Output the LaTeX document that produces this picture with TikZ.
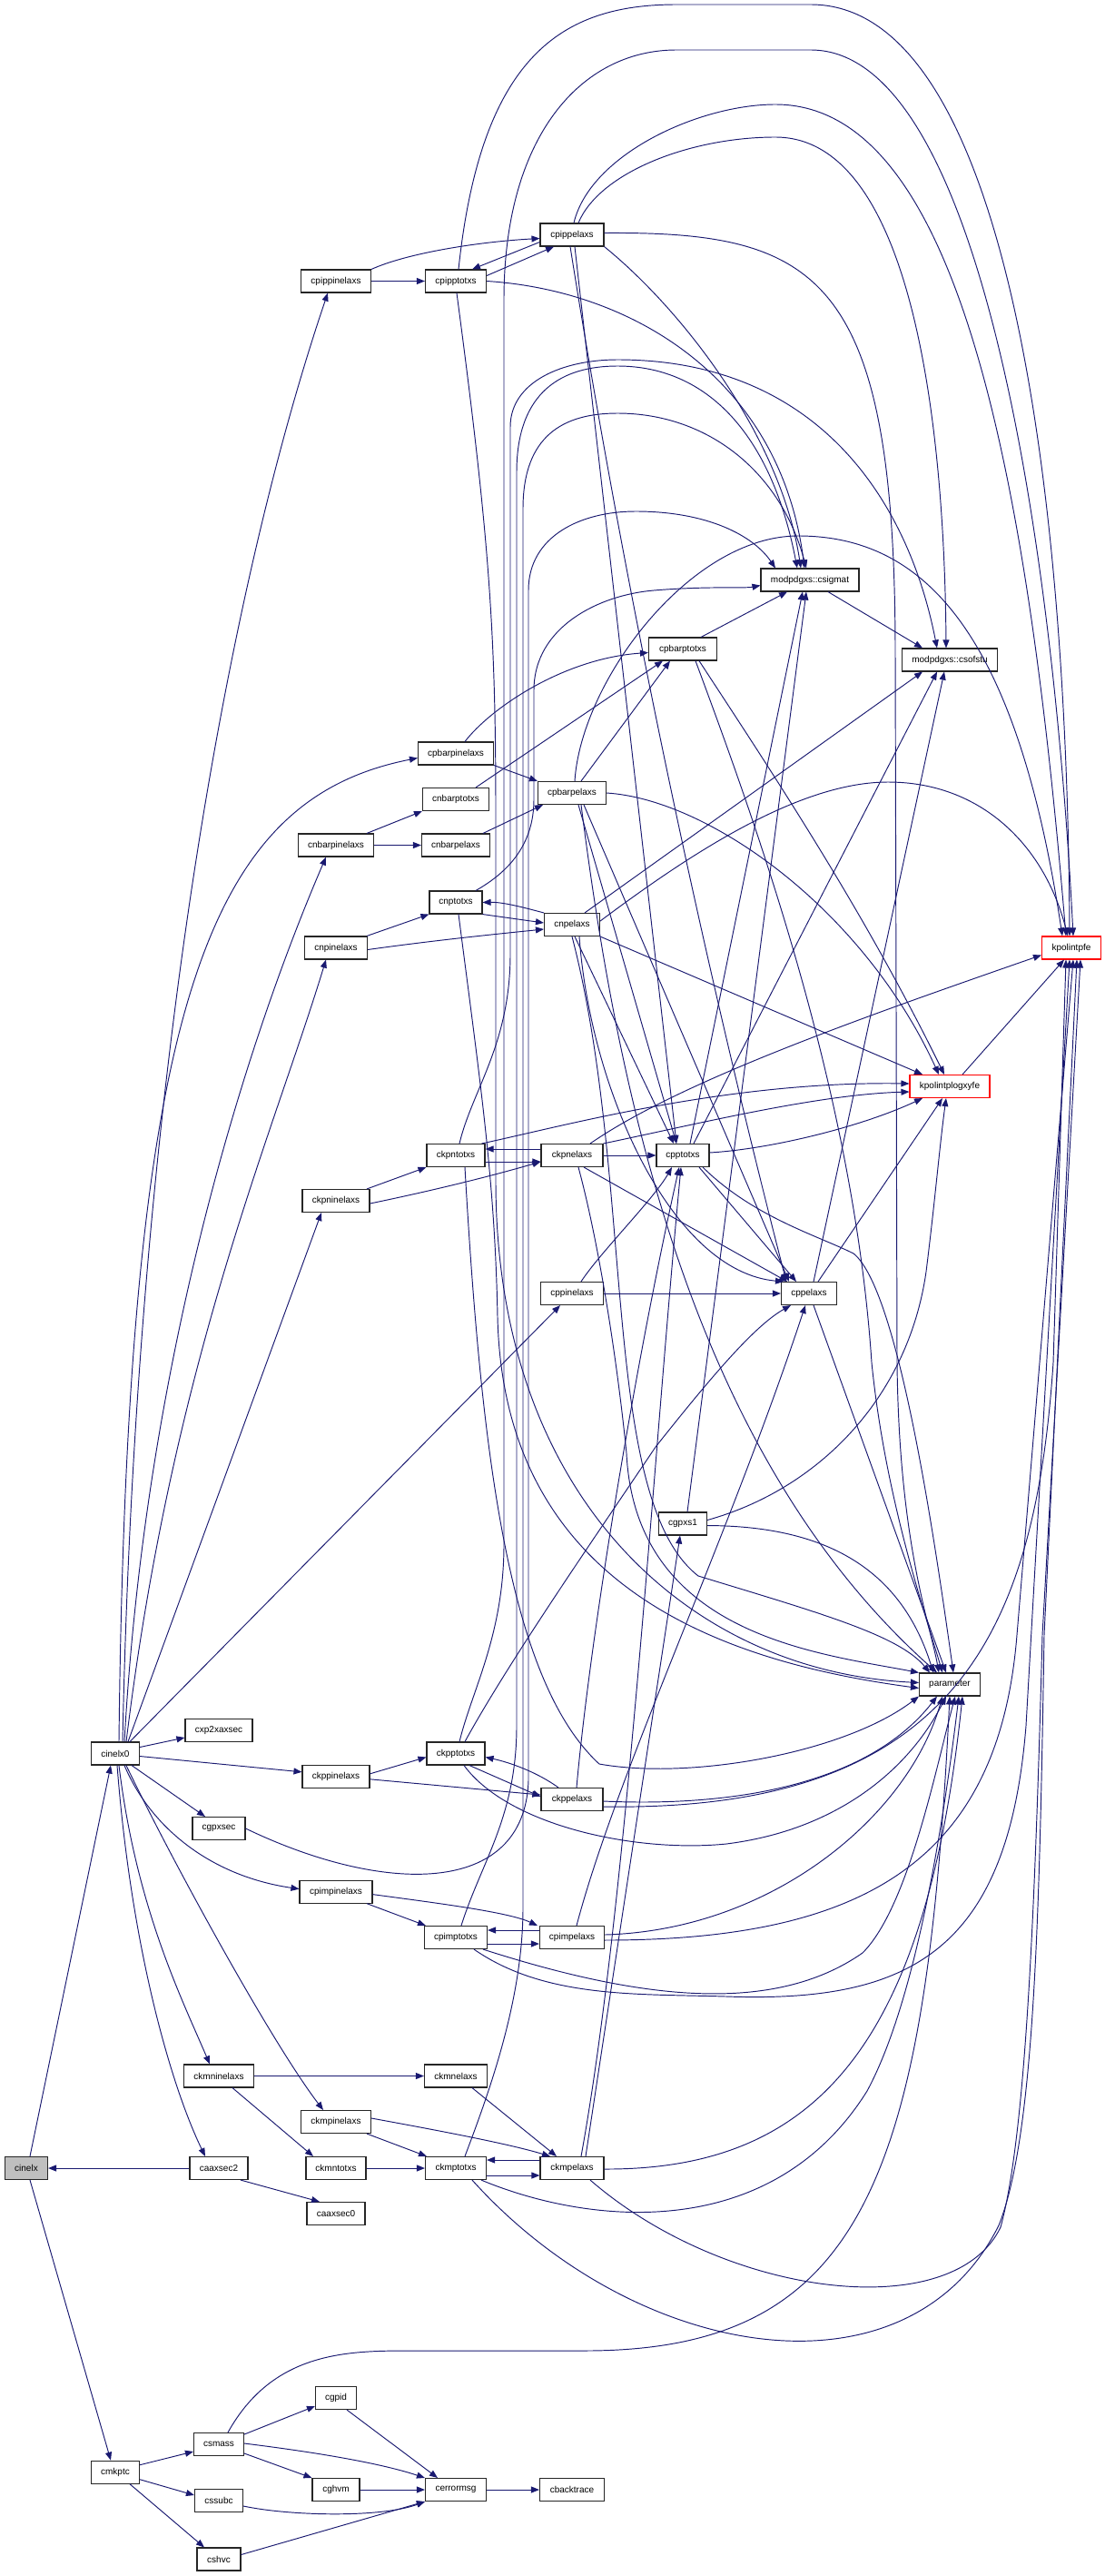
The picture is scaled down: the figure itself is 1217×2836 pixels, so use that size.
\documentclass[tikz,border=0pt]{standalone}
\usepackage{fontspec}
\setmainfont{Liberation Sans}
\usetikzlibrary{arrows.meta}
\definecolor{edgeblue}{RGB}{25,25,112}
\definecolor{rootgray}{RGB}{191,191,191}
\begin{document}
\begin{tikzpicture}[x=1pt,y=-1pt,
  fn/.style={draw=black!85,line width=1.1pt,fill=white,minimum height=25pt,inner sep=0pt,font=\fontsize{10}{12}\selectfont},
  redfn/.style={fn,draw=red},
  rootfn/.style={fn,fill=rootgray},
  ed/.style={draw=edgeblue,line width=0.95pt,-{Triangle[length=9pt,width=7pt]}}]
\useasboundingbox (0,0) rectangle (1217,2836);
% nodes
\node[fn,minimum width=77pt] (cpippinelaxs) at (370,309.5) {cpippinelaxs};
\node[fn,minimum width=67pt] (cpipptotxs) at (502,309.5) {cpipptotxs};
\node[fn,minimum width=70pt] (cpippelaxs) at (630,258.5) {cpippelaxs};
\node[fn,minimum width=108pt] (csigmat) at (892,638.5) {modpdgxs::csigmat};
\node[fn,minimum width=105pt] (csofstu) at (1046,726.5) {modpdgxs::csofstu};
\node[fn,minimum width=75pt] (cpbarptotxs) at (752,714.5) {cpbarptotxs};
\node[fn,minimum width=83pt] (cpbarpinelaxs) at (502,829.5) {cpbarpinelaxs};
\node[fn,minimum width=75pt] (cpbarpelaxs) at (630,873) {cpbarpelaxs};
\node[fn,minimum width=73pt] (cnbarptotxs) at (502,880) {cnbarptotxs};
\node[fn,minimum width=83pt] (cnbarpinelaxs) at (370,930.5) {cnbarpinelaxs};
\node[fn,minimum width=75pt] (cnbarpelaxs) at (502,930.5) {cnbarpelaxs};
\node[fn,minimum width=58pt] (cnptotxs) at (502,993.5) {cnptotxs};
\node[fn,minimum width=61pt] (cnpelaxs) at (630,1018) {cnpelaxs};
\node[fn,minimum width=69pt] (cnpinelaxs) at (370,1043.5) {cnpinelaxs};
\node[redfn,minimum width=65pt] (kpolintpfe) at (1180,1043.5) {kpolintpfe};
\node[redfn,minimum width=88pt] (kpolintplogxyfe) at (1046,1196) {kpolintplogxyfe};
\node[fn,minimum width=64pt] (ckpntotxs) at (502,1272) {ckpntotxs};
\node[fn,minimum width=68pt] (ckpnelaxs) at (630,1272) {ckpnelaxs};
\node[fn,minimum width=58pt] (cpptotxs) at (752,1272) {cpptotxs};
\node[fn,minimum width=74pt] (ckpninelaxs) at (370,1322) {ckpninelaxs};
\node[fn,minimum width=69pt] (cppinelaxs) at (630,1424) {cppinelaxs};
\node[fn,minimum width=61pt] (cppelaxs) at (891,1424) {cppelaxs};
\node[fn,minimum width=53pt] (cgpxs1) at (752,1677.5) {cgpxs1};
\node[fn,minimum width=67pt] (parameter) at (1046,1854.5) {parameter};
\node[fn,minimum width=74pt] (cxp2xaxsec) at (241,1905) {cxp2xaxsec};
\node[fn,minimum width=53pt] (cinelx0) at (127,1930.5) {cinelx0};
\node[fn,minimum width=64pt] (ckpptotxs) at (502,1930.5) {ckpptotxs};
\node[fn,minimum width=74pt] (ckppinelaxs) at (370,1955.8) {ckppinelaxs};
\node[fn,minimum width=68pt] (ckppelaxs) at (630,1981) {ckppelaxs};
\node[fn,minimum width=58pt] (cgpxsec) at (241,2013) {cgpxsec};
\node[fn,minimum width=80pt] (cpimpinelaxs) at (370,2082.6) {cpimpinelaxs};
\node[fn,minimum width=69pt] (cpimptotxs) at (502,2133) {cpimptotxs};
\node[fn,minimum width=71pt] (cpimpelaxs) at (630,2133) {cpimpelaxs};
\node[fn,minimum width=77pt] (ckmninelaxs) at (241,2285.5) {ckmninelaxs};
\node[fn,minimum width=69pt] (ckmnelaxs) at (502,2285.5) {ckmnelaxs};
\node[fn,minimum width=77pt] (ckmpinelaxs) at (370,2336) {ckmpinelaxs};
\node[rootfn,minimum width=47pt] (cinelx) at (29,2387) {cinelx};
\node[fn,minimum width=64pt] (caaxsec2) at (241,2387) {caaxsec2};
\node[fn,minimum width=66pt] (ckmntotxs) at (370,2387) {ckmntotxs};
\node[fn,minimum width=67pt] (ckmptotxs) at (502,2387) {ckmptotxs};
\node[fn,minimum width=70pt] (ckmpelaxs) at (630,2387) {ckmpelaxs};
\node[fn,minimum width=64pt] (caaxsec0) at (370,2437) {caaxsec0};
\node[fn,minimum width=45pt] (cgpid) at (370,2640) {cgpid};
\node[fn,minimum width=55pt] (csmass) at (241,2691) {csmass};
\node[fn,minimum width=53pt] (cmkptc) at (127,2721.7) {cmkptc};
\node[fn,minimum width=52pt] (cghvm) at (370,2741) {cghvm};
\node[fn,minimum width=67pt] (cerrormsg) at (502,2741) {cerrormsg};
\node[fn,minimum width=71pt] (cbacktrace) at (630,2741) {cbacktrace};
\node[fn,minimum width=53pt] (cssubc) at (241,2753) {cssubc};
\node[fn,minimum width=48pt] (cshvc) at (241,2817.5) {cshvc};

% cinelx
\draw[ed] ([xshift=4pt]cinelx.north) -- ([xshift=-5pt]cinelx0.south);
\draw[ed] ([xshift=4pt]cinelx.south) -- ([xshift=-5pt]cmkptc.north);
\draw[ed] (caaxsec2.west) -- (cinelx.east);
\draw[ed] ([xshift=24pt]caaxsec2.south) -- ([xshift=-18pt]caaxsec0.north);
% cinelx0 out
\draw[ed] ([xshift=8pt]cinelx0.north) .. controls (150,1200) and (250,650) .. ([xshift=-9pt]cpippinelaxs.south);
\draw[ed] ([xshift=4pt]cinelx0.north) .. controls (140,1100) and (230,880) .. ([yshift=-5pt]cpbarpinelaxs.west);
\draw[ed] ([xshift=10pt]cinelx0.north) .. controls (160,1500) and (270,1150) .. ([xshift=-11pt]cnbarpinelaxs.south);
\draw[ed] ([xshift=12pt]cinelx0.north) .. controls (190,1500) and (300,1250) .. ([xshift=-11pt]cnpinelaxs.south);
\draw[ed] ([xshift=14pt]cinelx0.north) -- ([xshift=-16pt]ckpninelaxs.south);
\draw[ed] ([xshift=16pt]cinelx0.north) -- ([xshift=-13pt]cppinelaxs.south);
\draw[ed] ([yshift=7pt]cinelx0.east) -- ([yshift=-8pt]cxp2xaxsec.west);
\draw[ed] ([yshift=-3pt]cinelx0.east) -- ([yshift=5pt]ckppinelaxs.west);
\draw[ed] ([xshift=18pt]cinelx0.south) -- ([xshift=-15pt]cgpxsec.north);
\draw[ed] ([xshift=10pt]cinelx0.south) .. controls (165,2010) and (230,2065) .. ([yshift=3pt]cpimpinelaxs.west);
\draw[ed] ([xshift=4pt]cinelx0.south) .. controls (150,2100) and (200,2200) .. ([xshift=-10pt]ckmninelaxs.north);
\draw[ed] ([xshift=2pt]cinelx0.south) .. controls (145,2150) and (190,2300) .. ([xshift=-15pt]caaxsec2.north);
\draw[ed] ([xshift=12pt]cinelx0.south) .. controls (190,2050) and (300,2250) .. ([xshift=-14pt]ckmpinelaxs.north);
% cpip
\draw[ed] (cpippinelaxs.east) -- (cpipptotxs.west);
\draw[ed] (cpippinelaxs.north east) .. controls (450,278) and (530,266) .. ([yshift=-4pt]cpippelaxs.west);
\draw[ed] ([yshift=6pt]cpipptotxs.east) -- ([xshift=-20pt]cpippelaxs.south);
\draw[ed] ([yshift=-8pt]cpippelaxs.west) -- ([xshift=18pt]cpipptotxs.north);
\draw[ed] ([xshift=3pt]cpipptotxs.north) .. controls (530,60) and (620,5) .. (745,5) -- (893,5) .. controls (1100,5) and (1175,500) .. ([xshift=-2pt]kpolintpfe.north);
\draw[ed] (cpippelaxs.south east) .. controls (750,340) and (860,480) .. ([xshift=-10pt]csigmat.north);
\draw[ed] ([xshift=7pt]cpippelaxs.north) .. controls (660,190) and (760,151) .. (854,151) .. controls (1000,151) and (1040,450) .. ([xshift=-4pt]csofstu.north);
\draw[ed] ([xshift=2pt]cpippelaxs.north) .. controls (650,170) and (770,115) .. (854,115) .. controls (1050,115) and (1130,500) .. ([xshift=-6pt]kpolintpfe.north);
\draw[ed] ([yshift=2pt]cpippelaxs.east) .. controls (900,255) and (986,300) .. (986,720) -- (988,1500) .. controls (990,1700) and (1025,1790) .. ([xshift=-12pt]parameter.north);
\draw[ed] ([xshift=3pt]cpippelaxs.south) -- ([xshift=-7pt]cpptotxs.north);
\draw[ed] ([xshift=-2pt]cpippelaxs.south) .. controls (680,600) and (760,1000) .. ([xshift=-25pt]cppelaxs.north);
\draw[ed] (cpipptotxs.east) .. controls (700,320) and (860,420) .. ([xshift=-6pt]csigmat.north);
\draw[ed] ([xshift=1pt]cpipptotxs.south) .. controls (540,600) and (546,700) .. (546,900) -- (546,1300) .. controls (546,1650) and (760,1840) .. ([yshift=2pt]parameter.west);
% cpbar
\draw[ed] ([xshift=10pt]cpbarpinelaxs.north) .. controls (540,780) and (620,725) .. ([yshift=-4pt]cpbarptotxs.west);
\draw[ed] (cpbarpinelaxs.south east) -- (cpbarpelaxs.north west);
\draw[ed] ([xshift=10pt]cpbarpelaxs.north) -- ([xshift=-14pt]cpbarptotxs.south);
\draw[ed] ([xshift=22pt]cnbarptotxs.north) -- ([xshift=-22pt]cpbarptotxs.south);
\draw[ed] ([xshift=3pt]cpbarpelaxs.north) .. controls (640,750) and (760,590) .. (879,590) .. controls (1020,590) and (1120,700) .. ([xshift=-10pt]kpolintpfe.north);
\draw[ed] (cpbarpelaxs.east) .. controls (780,880) and (950,1000) .. ([xshift=-12pt]kpolintplogxyfe.north);
\draw[ed] ([xshift=7pt]cpbarpelaxs.south) -- ([xshift=-7pt]cpptotxs.north);
\draw[ed] ([xshift=13pt]cpbarpelaxs.south) -- ([xshift=-22pt]cppelaxs.north);
\draw[ed] ([xshift=10pt]cpbarpelaxs.south) .. controls (680,1200) and (760,1600) .. ([xshift=-14pt]parameter.north);
\draw[ed] ([xshift=18pt]cpbarptotxs.south) .. controls (850,850) and (950,1000) .. ([xshift=-6pt]kpolintplogxyfe.north);
\draw[ed] ([xshift=14pt]cpbarptotxs.south) .. controls (830,900) and (940,1200) .. (960,1500) .. controls (975,1650) and (1020,1780) .. ([xshift=-8pt]parameter.north);
\draw[ed] ([xshift=20pt]cpbarptotxs.north) -- ([xshift=-25pt]csigmat.south);
\draw[ed] ([xshift=20pt]csigmat.south) -- ([xshift=-30pt]csofstu.north);
% cnbar
\draw[ed] ([xshift=34pt]cnbarpinelaxs.north) -- (cnbarptotxs.south west);
\draw[ed] (cnbarpinelaxs.east) -- (cnbarpelaxs.west);
\draw[ed] ([xshift=30pt]cnbarpelaxs.north) -- ([xshift=6pt]cpbarpelaxs.south west);
% cn
\draw[ed] ([xshift=34pt]cnpinelaxs.north) -- (cnptotxs.south west);
\draw[ed] ([yshift=-2pt]cnpinelaxs.east) .. controls (480,1035) and (550,1028) .. ([yshift=-5pt]cnpelaxs.west);
\draw[ed] (cnptotxs.south east) -- ([yshift=2pt]cnpelaxs.west);
\draw[ed] (cnpelaxs.north west) .. controls (580,1000) and (555,993) .. (cnptotxs.east);
\draw[ed] ([xshift=22pt]cnptotxs.north) .. controls (560,960) and (588,930) .. (588,880) -- (588,760) .. controls (588,690) and (660,655) .. (720,650) .. controls (780,645) and (820,648) .. ([yshift=-6pt]csigmat.west);
\draw[ed] ([xshift=3pt]cnptotxs.south) .. controls (530,1200) and (545,1300) .. (548,1450) .. controls (555,1750) and (800,1830) .. ([yshift=-4pt]parameter.west);
\draw[ed] ([xshift=14pt]cnpelaxs.north) -- ([xshift=-30pt]csofstu.south);
\draw[ed] ([yshift=4pt]cnpelaxs.east) .. controls (760,940) and (880,861) .. (978,861) .. controls (1080,861) and (1150,930) .. ([xshift=-4pt]kpolintpfe.north);
\draw[ed] (cnpelaxs.south east) -- ([xshift=-30pt]kpolintplogxyfe.north);
\draw[ed] ([xshift=3pt]cnpelaxs.south) -- ([xshift=-10pt]cpptotxs.north);
\draw[ed] ([xshift=8pt]cnpelaxs.south) .. controls (650,1200) and (740,1400) .. ([xshift=-28pt]cppelaxs.north);
\draw[ed] (cnpelaxs.south) .. controls (700,1300) and (660,1650) .. (769,1735) .. controls (900,1775) and (990,1800) .. ([xshift=-22pt]parameter.north);
% ckpn
\draw[ed] ([xshift=34pt]ckpninelaxs.north) -- (ckpntotxs.south west);
\draw[ed] ([yshift=-3pt]ckpninelaxs.east) .. controls (480,1310) and (540,1295) .. ([yshift=-7pt]ckpnelaxs.west);
\draw[ed] ([yshift=-7pt]ckpntotxs.east) -- ([yshift=-7pt]ckpnelaxs.west);
\draw[ed] ([yshift=7pt]ckpnelaxs.west) -- ([yshift=7pt]ckpntotxs.east);
\draw[ed] ([xshift=-4pt]ckpntotxs.north east) .. controls (620,1240) and (800,1190) .. ([yshift=3pt]kpolintplogxyfe.west);
\draw[ed] (ckpnelaxs.north east) .. controls (770,1237) and (900,1205) .. ([yshift=-6pt]kpolintplogxyfe.west);
\draw[ed] ([xshift=20pt]ckpnelaxs.north) .. controls (750,1190) and (950,1120) .. ([yshift=-8pt]kpolintpfe.west);
\draw[ed] (ckpnelaxs.east) -- (cpptotxs.west);
\draw[ed] ([xshift=13pt]ckpnelaxs.south) -- ([xshift=-24pt]cppelaxs.north);
\draw[ed] ([xshift=7pt]ckpnelaxs.south) .. controls (660,1370) and (680,1500) .. (690,1600) .. controls (700,1800) and (900,1820) .. (parameter.north west);
\draw[ed] ([xshift=10pt]ckpntotxs.south) .. controls (530,1600) and (560,1850) .. (660,1942) .. controls (760,1960) and (930,1930) .. (parameter.south west);
\draw[ed] ([xshift=4pt]ckpntotxs.north) .. controls (520,1200) and (562,1150) .. (562,1050) -- (562,470) .. controls (562,420) and (620,396) .. (680,396) .. controls (900,396) and (1000,550) .. ([xshift=-14pt]csofstu.north);
% cpptotxs
\draw[ed] ([yshift=3pt]cpptotxs.east) .. controls (850,1265) and (950,1240) .. ([xshift=-30pt]kpolintplogxyfe.south);
\draw[ed] ([xshift=8pt]cpptotxs.north) -- ([xshift=-8pt]csigmat.south);
\draw[ed] ([xshift=12pt]cpptotxs.north) -- ([xshift=-14pt]csofstu.south);
\draw[ed] ([xshift=18pt]cpptotxs.south) -- ([xshift=-14pt]cppelaxs.north);
\draw[ed] ([xshift=22pt]cpptotxs.south) .. controls (830,1340) and (900,1360) .. (940,1380) .. controls (990,1420) and (1030,1700) .. ([xshift=4pt]parameter.north);
% cpp
\draw[ed] (cppinelaxs.east) -- (cppelaxs.west);
\draw[ed] ([xshift=10pt]cppinelaxs.north) .. controls (660,1380) and (720,1320) .. ([xshift=-12pt]cpptotxs.south);
\draw[ed] ([xshift=5pt]cppelaxs.south) -- ([xshift=-4pt]parameter.north);
\draw[ed] ([xshift=10pt]cppelaxs.north) -- ([xshift=-8pt]kpolintplogxyfe.south);
\draw[ed] ([xshift=5pt]cppelaxs.north) -- ([xshift=-6pt]csofstu.south);
% cgpxs1
\draw[ed] ([xshift=5pt]cgpxs1.north) -- ([xshift=-4pt]csigmat.south);
\draw[ed] ([yshift=4pt]cgpxs1.east) .. controls (900,1640) and (1000,1540) .. (1020,1400) .. controls (1030,1320) and (1035,1260) .. ([xshift=-4pt]kpolintplogxyfe.south);
\draw[ed] ([yshift=-2pt]cgpxs1.east) .. controls (900,1680) and (990,1720) .. ([xshift=-18pt]parameter.north);
% ckpp
\draw[ed] ([yshift=3pt]ckppinelaxs.east) -- ([yshift=-4pt]ckpptotxs.west);
\draw[ed] ([yshift=-3pt]ckppinelaxs.east) -- ([yshift=5pt]ckppelaxs.west);
\draw[ed] ([xshift=15pt]ckpptotxs.south) -- ([yshift=3pt]ckppelaxs.west);
\draw[ed] ([xshift=-15pt]ckppelaxs.north) .. controls (590,1950) and (560,1940) .. ([yshift=-4pt]ckpptotxs.east);
\draw[ed] ([xshift=4pt]ckpptotxs.north) .. controls (520,1860) and (555,1800) .. (555,1700) -- (555,330) .. controls (555,150) and (640,55) .. (745,55) -- (893,55) .. controls (1080,55) and (1160,600) .. ([xshift=2pt]kpolintpfe.north);
\draw[ed] ([xshift=10pt]ckpptotxs.north) .. controls (560,1830) and (650,1700) .. (722,1593) .. controls (780,1520) and (830,1460) .. ([xshift=-20pt]cppelaxs.south);
\draw[ed] ([xshift=9pt]ckpptotxs.south) .. controls (560,2010) and (700,2040) .. (800,2030) .. controls (920,2015) and (1000,1950) .. ([xshift=-4pt]parameter.south);
\draw[ed] ([yshift=-2pt]ckppelaxs.east) .. controls (820,1990) and (960,1960) .. ([xshift=-14pt]parameter.south);
\draw[ed] ([yshift=-8pt]ckppelaxs.east) .. controls (1050,1995) and (1140,1800) .. (1160,1500) -- ([xshift=-6pt]kpolintpfe.south);
\draw[ed] ([xshift=5pt]ckppelaxs.north) .. controls (650,1800) and (700,1500) .. ([xshift=-4pt]cpptotxs.south);
% cgpxsec
\draw[ed] (cgpxsec.east) .. controls (420,2085) and (578,2090) .. (582,1960) -- (582,650) .. controls (582,590) and (640,563) .. (700,563) .. controls (780,563) and (830,590) .. ([xshift=-38pt]csigmat.north);
% cpim
\draw[ed] ([xshift=34pt]cpimpinelaxs.south) -- ([xshift=2pt]cpimptotxs.north west);
\draw[ed] ([yshift=-3pt]cpimpinelaxs.east) .. controls (480,2095) and (560,2105) .. ([xshift=-2pt]cpimpelaxs.north west);
\draw[ed] ([yshift=-7pt]cpimptotxs.east) -- ([yshift=-7pt]cpimpelaxs.west);
\draw[ed] ([yshift=8pt]cpimpelaxs.west) -- ([yshift=8pt]cpimptotxs.east);
\draw[ed] ([xshift=6pt]cpimptotxs.north) .. controls (530,2050) and (569,2000) .. (569,1900) -- (569,520) .. controls (569,430) and (620,403) .. (680,403) .. controls (780,403) and (850,480) .. ([xshift=-14pt]csigmat.north);
\draw[ed] ([xshift=30pt]cpimptotxs.south) .. controls (700,2200) and (850,2220) .. (950,2150) .. controls (1000,2100) and (1030,1950) .. ([xshift=6pt]parameter.south);
\draw[ed] ([xshift=20pt]cpimptotxs.south) .. controls (600,2200) and (700,2195) .. (800,2198) .. controls (1000,2205) and (1110,2150) .. (1130,1900) -- ([xshift=-2pt]kpolintpfe.south);
\draw[ed] ([yshift=3pt]cpimpelaxs.east) .. controls (850,2125) and (1000,2000) .. ([xshift=-8pt]parameter.south);
\draw[ed] ([yshift=-3pt]cpimpelaxs.east) .. controls (950,2136) and (1100,2050) .. (1120,1800) -- ([xshift=2pt]kpolintpfe.south);
\draw[ed] ([xshift=5pt]cpimpelaxs.north) .. controls (680,1950) and (800,1700) .. ([xshift=-4pt]cppelaxs.south);
% ckm
\draw[ed] (ckmninelaxs.east) -- (ckmnelaxs.west);
\draw[ed] ([xshift=15pt]ckmninelaxs.south) -- ([xshift=-25pt]ckmntotxs.north);
\draw[ed] (ckmntotxs.east) -- (ckmptotxs.west);
\draw[ed] ([xshift=18pt]ckmnelaxs.south) -- ([xshift=-17pt]ckmpelaxs.north);
\draw[ed] ([xshift=34pt]ckmpinelaxs.south) -- ([xshift=-32pt]ckmptotxs.north);
\draw[ed] ([yshift=4pt]ckmpinelaxs.east) .. controls (480,2345) and (560,2360) .. ([xshift=-24pt]ckmpelaxs.north);
\draw[ed] ([yshift=9pt]ckmpelaxs.west) -- ([yshift=9pt]ckmptotxs.east);
\draw[ed] ([yshift=-8pt]ckmptotxs.east) -- ([yshift=-8pt]ckmpelaxs.west);
\draw[ed] ([xshift=10pt]ckmptotxs.north) .. controls (540,2300) and (576,2200) .. (576,2100) -- (576,560) .. controls (576,480) and (620,455) .. (680,455) .. controls (780,455) and (860,520) .. ([xshift=-4pt]csigmat.north);
\draw[ed] ([xshift=28pt]ckmptotxs.south) .. controls (650,2450) and (850,2470) .. (955,2302) .. controls (1010,2200) and (1040,2000) .. ([xshift=10pt]parameter.south);
\draw[ed] ([xshift=18pt]ckmptotxs.south) .. controls (700,2600) and (1000,2650) .. (1100,2450) .. controls (1140,2350) and (1145,2100) .. (1150,1800) -- ([xshift=6pt]kpolintpfe.south);
\draw[ed] ([yshift=-1pt]ckmpelaxs.east) .. controls (900,2389) and (1020,2250) .. ([xshift=14pt]parameter.south);
\draw[ed] ([xshift=20pt]ckmpelaxs.south) .. controls (800,2530) and (1050,2560) .. (1102,2452) .. controls (1130,2350) and (1140,2100) .. (1148,1800) -- ([xshift=10pt]kpolintpfe.south);
\draw[ed] ([xshift=15pt]ckmpelaxs.north) -- ([xshift=-3pt]cgpxs1.south);
\draw[ed] ([xshift=10pt]ckmpelaxs.north) .. controls (690,2100) and (720,1600) .. ([xshift=-2pt]cpptotxs.south);
% k
\draw[ed] ([xshift=14pt]kpolintplogxyfe.north) -- ([xshift=-8pt]kpolintpfe.south);
% bottom
\draw[ed] ([yshift=8pt]cmkptc.east) -- ([yshift=-8pt]csmass.west);
\draw[ed] ([yshift=-8pt]cmkptc.east) -- ([yshift=6pt]cssubc.west);
\draw[ed] ([xshift=16pt]cmkptc.south) -- ([xshift=-16pt]cshvc.north);
\draw[ed] ([yshift=11pt]csmass.east) -- ([yshift=-9pt]cgpid.west);
\draw[ed] ([yshift=-10pt]csmass.east) -- (cghvm.north west);
\draw[ed] ([yshift=1pt]csmass.east) .. controls (350,2700) and (420,2712) .. (cerrormsg.north west);
\draw[ed] ([xshift=12pt]cgpid.south) -- ([xshift=-20pt]cerrormsg.north);
\draw[ed] (cghvm.east) -- (cerrormsg.west);
\draw[ed] ([yshift=-6pt]cssubc.east) .. controls (320,2770) and (420,2772) .. (cerrormsg.south west);
\draw[ed] ([yshift=5pt]cshvc.east) -- (cerrormsg.south west);
\draw[ed] (cerrormsg.east) -- (cbacktrace.west);
\draw[ed] ([xshift=10pt]csmass.north) .. controls (300,2590) and (380,2588) .. (450,2588) -- (644,2588) .. controls (950,2588) and (1020,2400) .. (parameter.south);
\end{tikzpicture}
\end{document}
